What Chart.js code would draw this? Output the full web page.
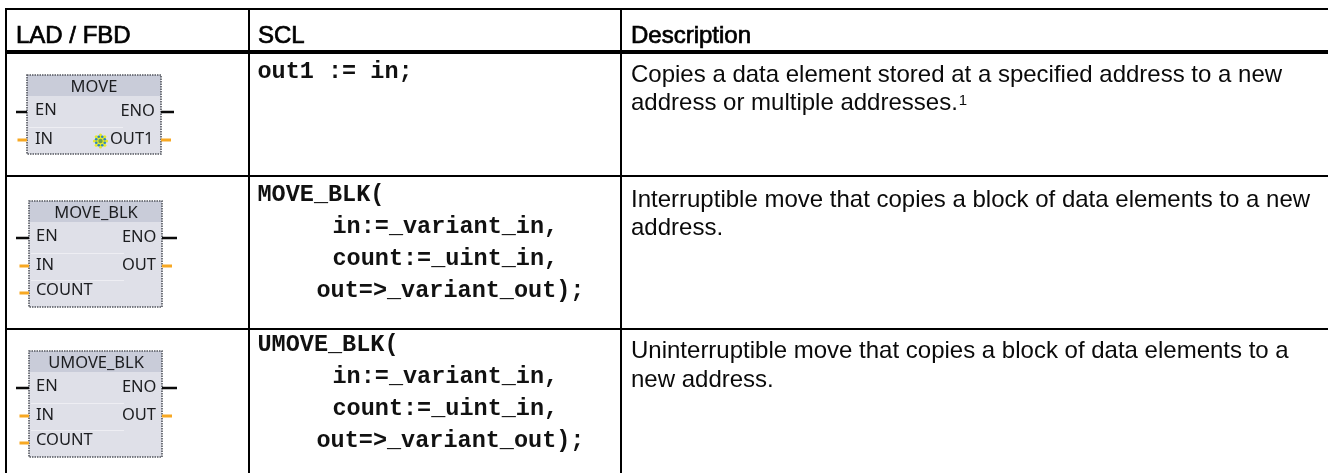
<!DOCTYPE html>
<html><head><meta charset="utf-8">
<style>html,body{margin:0;padding:0;background:#fff}canvas{display:block}</style>
<script src="https://cdn.jsdelivr.net/npm/chart.js@4/dist/chart.umd.min.js"></script>
</head><body><canvas id="c" width="1328" height="473"></canvas>
<script>
const columns = ["LAD / FBD", "SCL", "Description"];
const sclRows = [
  [["out1 := in;", 0]],
  [["MOVE_BLK(", 0], ["in:=_variant_in,", 75], ["count:=_uint_in,", 75], ["out=>_variant_out);", 59]],
  [["UMOVE_BLK(", 0], ["in:=_variant_in,", 75], ["count:=_uint_in,", 75], ["out=>_variant_out);", 59]]
];
const descriptions = [
  ["Copies a data element stored at a specified address to a new", "address or multiple addresses."],
  ["Interruptible move that copies a block of data elements to a new", "address."],
  ["Uninterruptible move that copies a block of data elements to a", "new address."]
];
const footnoteMark = "1";
const blockTitles = ["MOVE", "MOVE_BLK", "UMOVE_BLK"];
const blockInputs = [["EN", "IN"], ["EN", "IN", "COUNT"], ["EN", "IN", "COUNT"]];
const blockOutputs = [["ENO", "OUT1"], ["ENO", "OUT"], ["ENO", "OUT"]];
const columnRules = [6, 249, 621];
const rowRules = [9, 52, 176, 329];

const sans = '"Liberation Sans", Arial, sans-serif';
const mono = '"Liberation Mono", "Courier New", monospace';
const blockFont = '16.5px "Noto Sans", Tahoma, sans-serif';
const BLACK = '#000', ORANGE = '#f7a823', WIRE = '#0a0a0a';

function blockGeom(i) {
  if (i === 0) return {l:27, r:161, t:75, b:154, head:96, title:[94,92], rows:[115,144], rowsR:[116,144],
    inX:35, outR:[155,153.5], wires:[112,140], divs:[127], wl:[16,17.5], wr:[174,171]};
  const o = i === 1 ? 0 : 150;
  return {l:29, r:162, t:201+o, b:307+o, head:222+o, title:[96,218+o], rows:[241+o,270+o,295+o], rowsR:[242+o,270+o],
    inX:36, outR:[156.5,156], wires:[238+o,266+o,293+o], divs:[253+o,280+o], wl:[16,19.5], wr:[177,172]};
}

function gear(ctx, cx, cy) {
  ctx.save();
  ctx.fillStyle = '#e6ea2a';
  ctx.beginPath(); ctx.arc(cx, cy, 5.5, 0, 7); ctx.fill();
  ctx.fillStyle = '#e6ea2a';
  for (let a = 0; a < 8; a++) {
    const t = a * Math.PI / 4;
    ctx.beginPath(); ctx.arc(cx + Math.cos(t)*6, cy + Math.sin(t)*6, 1.6, 0, 7); ctx.fill();
  }
  ctx.fillStyle = '#2f86bd';
  for (let a = 0; a < 8; a++) {
    const t = (a + .5) * Math.PI / 4;
    ctx.beginPath(); ctx.arc(cx + Math.cos(t)*4.6, cy + Math.sin(t)*4.6, 1.3, 0, 7); ctx.fill();
  }
  ctx.fillStyle = '#6fa34a';
  ctx.beginPath(); ctx.arc(cx, cy, 2.2, 0, 7); ctx.fill();
  ctx.restore();
}

function drawBlock(ctx, i, X, Y) {
  const g = blockGeom(i);
  const l = X(g.l), r = X(g.r), t = Y(g.t), b = Y(g.b), h = Y(g.head);
  ctx.save();
  ctx.filter = 'blur(0.35px)';
  ctx.fillStyle = '#dfe0e8'; ctx.fillRect(l, t, r-l, b-t);
  ctx.fillStyle = '#c9ccd9'; ctx.fillRect(l, t, r-l, h-t);
  ctx.fillStyle = '#eeeef3';
  g.divs.forEach(d => ctx.fillRect(l+2, Y(d), (r-l)-40, 1));
  ctx.strokeStyle = '#54575f'; ctx.lineWidth = 1.6; ctx.setLineDash([1.5,1]);
  ctx.strokeRect(l, t, r-l, b-t); ctx.setLineDash([]);
  g.wires.forEach((w, k) => {
    const black = k === 0;
    ctx.fillStyle = black ? WIRE : ORANGE;
    const hh = black ? 2.5 : 3;
    ctx.fillRect(X(g.wl[black?0:1]), Y(w)-hh/2, l-X(g.wl[black?0:1]), hh);
    if (k < 2) {
      const e = g.wr[black?0:1];
      ctx.fillRect(r, Y(w)-hh/2, X(e)-r, hh);
    }
  });
  ctx.font = blockFont; ctx.fillStyle = '#1c1d20'; ctx.textBaseline = 'alphabetic';
  ctx.textAlign = 'center'; ctx.fillText(blockTitles[i], X(g.title[0]), Y(g.title[1]));
  ctx.textAlign = 'left';
  blockInputs[i].forEach((s, k) => ctx.fillText(s, X(g.inX), Y(g.rows[k])));
  ctx.textAlign = 'right';
  blockOutputs[i].forEach((s, k) => ctx.fillText(s, X(g.outR[k]), Y(g.rowsR[k])));
  if (i === 0) gear(ctx, X(100.5), Y(141));
  ctx.restore();
}

const tablePlugin = {
  id: 'tableText',
  afterDraw(chart) {
    const ctx = chart.ctx, xs = chart.scales.x, ys = chart.scales.y;
    const X = v => xs.getPixelForValue(v), Y = v => ys.getPixelForValue(v);
    ctx.save();
    ctx.filter = 'blur(0.3px)';
    ctx.textBaseline = 'alphabetic'; ctx.textAlign = 'left';
    const hx = [16, 258, 631];
    ctx.font = '24px ' + sans; ctx.fillStyle = BLACK; ctx.strokeStyle = BLACK; ctx.lineWidth = 0.7;
    columns.forEach((c, i) => { ctx.fillText(c, X(hx[i]), Y(43)); ctx.strokeText(c, X(hx[i]), Y(43)); });
    ctx.font = 'bold 23.5px ' + mono; ctx.fillStyle = '#111';
    const sclTop = [78, 201, 351], sclStep = 32.1;
    sclRows.forEach((rows, i) => rows.forEach((ln, k) =>
      ctx.fillText(ln[0], X(257.5 + ln[1]), Y(sclTop[i] + k * sclStep))));
    ctx.font = '24px ' + sans; ctx.fillStyle = '#0a0a0a';
    const descY = [[82, 110], [207, 235], [358, 387]];
    descriptions.forEach((rows, i) => rows.forEach((s, k) =>
      ctx.fillText(s, X(631), Y(descY[i][k]))));
    const w = ctx.measureText(descriptions[0][1]).width;
    ctx.font = '15px ' + sans;
    ctx.fillText(footnoteMark, X(631) + w + 1, Y(105));
    ctx.restore();
    blockTitles.forEach((_, i) => drawBlock(ctx, i, X, Y));
  }
};

new Chart(document.getElementById('c'), {
  type: 'scatter',
  data: { datasets: [{ data: [] }] },
  plugins: [tablePlugin],
  options: {
    responsive: false, animation: false, events: [],
    layout: { padding: { left: 5, top: 8, right: 0, bottom: 0 } },
    plugins: { legend: { display: false }, tooltip: { enabled: false }, title: { display: false } },
    scales: {
      x: {
        type: 'linear', min: 5, max: 1328, position: 'top',
        afterBuildTicks: s => { s.ticks = columnRules.map(v => ({ value: v })); },
        ticks: { display: false, autoSkip: false },
        border: { display: false },
        grid: { color: '#000', lineWidth: 2, drawTicks: false }
      },
      y: {
        type: 'linear', min: 8, max: 473, reverse: true,
        afterBuildTicks: s => { s.ticks = rowRules.map(v => ({ value: v })); },
        ticks: { display: false, autoSkip: false },
        border: { display: false },
        grid: { color: '#000', lineWidth: c => (c.tick && c.tick.value === 52 ? 4 : 2), drawTicks: false }
      }
    }
  }
});
</script></body></html>
